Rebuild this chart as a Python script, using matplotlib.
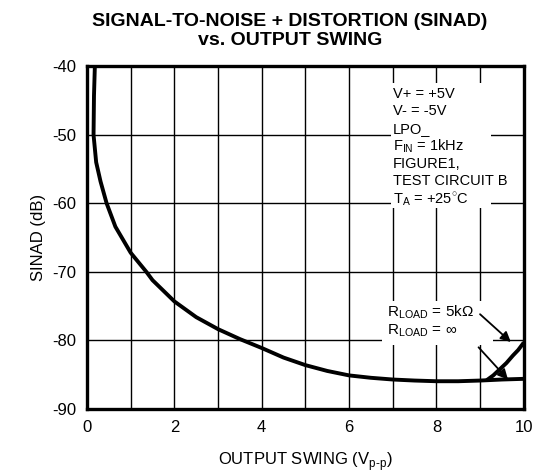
import matplotlib
matplotlib.use("Agg")
import matplotlib.pyplot as plt
from matplotlib.patches import Rectangle
from matplotlib import font_manager

# Curve data (RLOAD = infinity, main curve)
swing = [0.18, 0.16, 0.15, 0.21, 0.31, 0.45, 0.65, 1.0, 1.36, 1.5, 2.0,
         2.5, 3.0, 3.5, 4.0, 4.5, 5.0, 5.5, 6.0, 6.5, 7.0, 7.5, 8.0, 8.5,
         9.0, 9.5, 10.0]
sinad = [-40.0, -44.3, -50.0, -54.0, -56.8, -60.0, -63.4, -67.2, -70.0,
         -71.2, -74.3, -76.6, -78.35, -79.8, -81.1, -82.5, -83.6, -84.45,
         -85.1, -85.45, -85.7, -85.85, -85.95, -85.95, -85.85, -85.7, -85.6]

# RLOAD = 5k branch, splitting off near full swing
swing_5k = [9.15, 9.3, 9.45, 9.6, 9.75, 9.87, 10.0]
sinad_5k = [-85.8, -85.1, -84.2, -83.3, -82.2, -81.4, -80.3]

x_ticks = [0, 2, 4, 6, 8, 10]
y_ticks = [-40, -50, -60, -70, -80, -90]

conditions = ["V+ = +5V", "V- = -5V", "LPO_", r"F$_{\mathrm{IN}}$ = 1kHz",
              "FIGURE1,", "TEST CIRCUIT B", r"T$_{\mathrm{A}}$ = +25$^{\circ}$C"]

names = {f.name for f in font_manager.fontManager.ttflist}
narrow = "Liberation Sans Narrow" if "Liberation Sans Narrow" in names else "Liberation Sans"
plt.rcParams['font.family'] = [narrow, 'DejaVu Sans']
plt.rcParams['mathtext.fontset'] = 'custom'
plt.rcParams['mathtext.rm'] = narrow
plt.rcParams['axes.unicode_minus'] = False

fig = plt.figure(figsize=(5.42, 4.72), dpi=100)
ax = fig.add_axes([0.1605, 0.1335, 0.806, 0.726])

ax.set_xlim(0, 10)
ax.set_ylim(-90, -40)

# grid
for xv in range(1, 10):
    ax.axvline(xv, color='black', linewidth=1.0, zorder=1)
for yv in [-50, -60, -70, -80]:
    ax.axhline(yv, color='black', linewidth=1.0, zorder=1)

# white areas behind the annotations
ax.add_patch(Rectangle((6.95, -60.7), 2.3, 18.3, facecolor='white', edgecolor='none', zorder=2))
ax.add_patch(Rectangle((6.75, -80.7), 2.55, 6.5, facecolor='white', edgecolor='none', zorder=2))

ax.plot(swing, sinad, color='black', linewidth=2.8, zorder=3,
        solid_capstyle='butt', solid_joinstyle='round')
ax.plot(swing_5k, sinad_5k, color='black', linewidth=2.8, zorder=3,
        solid_capstyle='butt', solid_joinstyle='round')

for i, line in enumerate(conditions):
    ax.text(7.0, -44.0 - i * 2.55, line, fontsize=10.5, va='center', ha='left', zorder=4)

ax.text(6.87, -75.9, r"R$_{\mathrm{LOAD}}$ = 5k$\Omega$", fontsize=11, va='center', ha='left', zorder=4)
ax.text(6.87, -78.6, r"R$_{\mathrm{LOAD}}$ = $\infty$", fontsize=11, va='center', ha='left', zorder=4)

ax.annotate("", xy=(9.75, -80.5), xytext=(8.95, -75.9),
            arrowprops=dict(arrowstyle='-|>', color='black', lw=1.3, mutation_scale=15), zorder=4)
ax.annotate("", xy=(9.68, -86.0), xytext=(8.92, -80.7),
            arrowprops=dict(arrowstyle='-|>', color='black', lw=1.3, mutation_scale=15), zorder=4)

ax.set_xticks(x_ticks)
ax.set_yticks(y_ticks)
ax.tick_params(length=0, labelsize=12, pad=8)
for s in ax.spines.values():
    s.set_linewidth(2.4)
    s.set_zorder(5)

ax.set_xlabel(r"OUTPUT SWING (V$_{\mathrm{p\text{-}p}}$)", fontsize=12, labelpad=11)
ax.set_ylabel("SINAD (dB)", fontsize=12, labelpad=4)

fig.text(0.535, 0.972, "SIGNAL-TO-NOISE + DISTORTION (SINAD)\nvs. OUTPUT SWING",
         ha='center', va='top', fontsize=14, fontweight='heavy', linespacing=1.15)

fig.savefig("out.png", dpi=100)
